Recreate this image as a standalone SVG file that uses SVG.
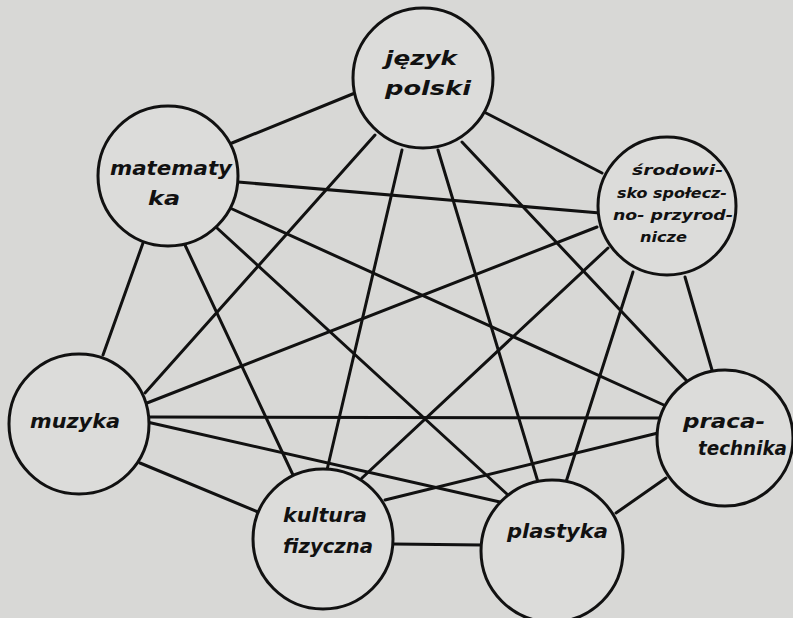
<svg xmlns="http://www.w3.org/2000/svg" width="793" height="618" viewBox="0 0 793 618">
<style>
.bg{fill:#d8d8d6}
.e line{stroke:#111;stroke-width:3;stroke-linecap:round}
.n circle{fill:#dcdcda;stroke:#111;stroke-width:3}
.n text{font-family:"DejaVu Sans","Liberation Sans",sans-serif;font-weight:bold;font-style:italic;fill:#111}
.s{font-size:14px}
.m{font-size:19px}
</style>
<rect class="bg" x="0" y="0" width="793" height="618"/>
<g id="connectors" class="e">
<line x1="232" y1="143" x2="355" y2="93"/>
<line x1="486" y1="113" x2="602" y2="173"/>
<line x1="375" y1="135" x2="145" y2="393"/>
<line x1="402" y1="150" x2="327" y2="470"/>
<line x1="438" y1="150" x2="538" y2="482"/>
<line x1="462" y1="142" x2="686" y2="380"/>
<line x1="238" y1="182" x2="600" y2="213"/>
<line x1="230" y1="208" x2="666" y2="406"/>
<line x1="217" y1="228" x2="508" y2="495"/>
<line x1="185" y1="245" x2="293" y2="475"/>
<line x1="143" y1="243" x2="103" y2="355"/>
<line x1="597" y1="227" x2="147" y2="403"/>
<line x1="608" y1="248" x2="362" y2="478"/>
<line x1="633" y1="272" x2="566" y2="482"/>
<line x1="685" y1="277" x2="712" y2="370"/>
<line x1="150" y1="417" x2="660" y2="418"/>
<line x1="147" y1="422" x2="500" y2="502"/>
<line x1="140" y1="463" x2="258" y2="512"/>
<line x1="658" y1="433" x2="385" y2="500"/>
<line x1="666" y1="478" x2="616" y2="513"/>
<line x1="393" y1="544" x2="482" y2="545"/>
</g>
<g id="jezyk-polski" class="n">
<circle cx="423" cy="78" r="70"/>
<text class="m" x="385" y="65" textLength="72" lengthAdjust="spacingAndGlyphs">język</text>
<text class="m" x="385" y="95" textLength="86" lengthAdjust="spacingAndGlyphs">polski</text>
</g>
<g id="matematyka" class="n">
<circle cx="168" cy="176" r="70"/>
<text class="m" x="110" y="175" textLength="122" lengthAdjust="spacingAndGlyphs">matematy</text>
<text class="m" x="148" y="205" textLength="32" lengthAdjust="spacingAndGlyphs">ka</text>
</g>
<g id="srodowisko" class="n">
<circle cx="667" cy="206" r="69"/>
<text class="s" x="632" y="175" textLength="91" lengthAdjust="spacingAndGlyphs">środowi-</text>
<text class="s" x="617" y="198" textLength="110" lengthAdjust="spacingAndGlyphs">sko społecz-</text>
<text class="s" x="613" y="220" textLength="120" lengthAdjust="spacingAndGlyphs">no- przyrod-</text>
<text class="s" x="640" y="242" textLength="47" lengthAdjust="spacingAndGlyphs">nicze</text>
</g>
<g id="muzyka" class="n">
<circle cx="79" cy="424" r="70"/>
<text class="m" x="30" y="428" textLength="90" lengthAdjust="spacingAndGlyphs">muzyka</text>
</g>
<g id="praca-technika" class="n">
<circle cx="725" cy="438" r="68"/>
<text class="m" x="683" y="428" textLength="82" lengthAdjust="spacingAndGlyphs">praca-</text>
<text class="m" x="698" y="455" textLength="89" lengthAdjust="spacingAndGlyphs">technika</text>
</g>
<g id="kultura-fizyczna" class="n">
<circle cx="323" cy="539" r="70"/>
<text class="m" x="283" y="522" textLength="84" lengthAdjust="spacingAndGlyphs">kultura</text>
<text class="m" x="283" y="553" textLength="90" lengthAdjust="spacingAndGlyphs">fizyczna</text>
</g>
<g id="plastyka" class="n">
<circle cx="552" cy="551" r="71"/>
<text class="m" x="507" y="538" textLength="101" lengthAdjust="spacingAndGlyphs">plastyka</text>
</g>
</svg>
